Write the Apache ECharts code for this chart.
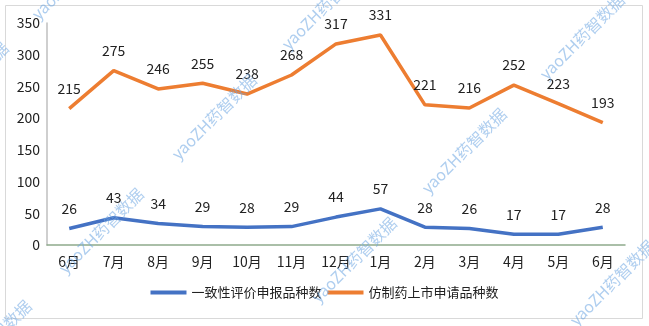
<!DOCTYPE html>
<html>
<head>
<meta charset="utf-8">
<script src="https://cdn.jsdelivr.net/npm/echarts@6/dist/echarts.min.js"></script>
<style>
html,body{margin:0;padding:0;background:#fff;}
#chart{width:649px;height:326px;}
</style>
</head>
<body>
<div id="chart"></div>
<script>
// Monthly counts
const months = ['6月','7月','8月','9月','10月','11月','12月','1月','2月','3月','4月','5月','6月'];
const consistencyEval = [26,43,34,29,28,29,44,57,28,26,17,17,28];
const genericApps = [215,275,246,255,238,268,317,331,221,216,252,223,193];
const yTicks = { min: 0, max: 350, interval: 50 };
const seriesNames = ['一致性评价申报品种数','仿制药上市申请品种数'];
const stampText = 'yaoZH药智数据';

const font = '"Microsoft YaHei","Noto Sans CJK SC",sans-serif';

// faint diagonal brand stamps (start point of each text run)
const stampSpots = [[-68,130],[40,22],[67,276],[180,162],[290,52],[-45,388],[320,305],[430,196],[548,82],[578,328]];
const stamps = stampSpots.map(p => ({
  type: 'text', x: p[0], y: p[1], rotation: Math.PI/4, silent: true, z: 100,
  style: { text: stampText, fill: 'rgba(110,165,225,0.55)', font: '16px ' + font, verticalAlign: 'bottom' }
}));

const labelStyle = { show: true, position: 'top', distance: 13, fontFamily: font, fontSize: 14, color: '#222' };

const chart = echarts.init(document.getElementById('chart'));
chart.setOption({
  animation: false,
  backgroundColor: '#fff',
  grid: { left: 47, right: 24, top: 23, bottom: 81 },
  legend: {
    bottom: 22, left: 'center', itemWidth: 36, itemHeight: 4, itemGap: 6, icon: 'rect',
    textStyle: { fontFamily: font, fontSize: 13, color: '#222' },
    data: seriesNames
  },
  xAxis: {
    type: 'category', data: months, boundaryGap: true,
    axisLine: { lineStyle: { color: '#8faa8c', width: 1.5 } },
    axisTick: { show: false },
    axisLabel: { fontFamily: font, fontSize: 14, color: '#222', margin: 10 }
  },
  yAxis: {
    type: 'value', min: yTicks.min, max: yTicks.max, interval: yTicks.interval,
    axisLine: { show: true, lineStyle: { color: '#bfbfbf', width: 1.5 } },
    splitLine: { show: false },
    axisTick: { show: false },
    axisLabel: { fontFamily: font, fontSize: 14, color: '#222', margin: 7 }
  },
  series: [
    {
      name: seriesNames[0], type: 'line', data: consistencyEval,
      symbol: 'circle', symbolSize: 0, showSymbol: true,
      color: '#4472C4', lineStyle: { width: 3.5 },
      label: labelStyle
    },
    {
      name: seriesNames[1], type: 'line', data: genericApps,
      symbol: 'circle', symbolSize: 0, showSymbol: true,
      color: '#ED7D31', lineStyle: { width: 3.5 },
      label: labelStyle
    }
  ],
  graphic: [
    { type: 'rect', shape: { x: 5.5, y: 5.5, width: 637, height: 313 }, style: { fill: 'none', stroke: '#d9d9d9', lineWidth: 1 }, silent: true, z: -1 }
  ].concat(stamps)
});
</script>
</body>
</html>
